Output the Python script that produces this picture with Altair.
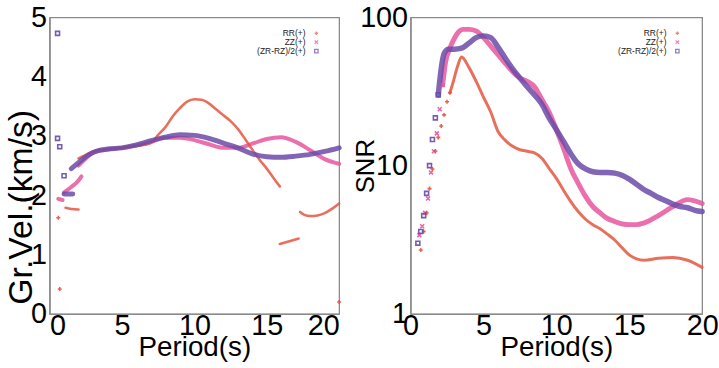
import altair as alt
import pandas as pd

SERIES = ["RR(+)", "ZZ(+)", "(ZR-RZ)/2(+)"]
COLORS = ["#e4563f", "#e6569e", "#6b4ba8"]
SHAPES = ["M-1,0L1,0M0,-1L0,1", "M-1,-1L1,1M-1,1L1,-1", "square"]

X_TICKS = [0, 5, 10, 15, 20]
GV_TICKS = [0, 1, 2, 3, 4, 5]
SNR_TICKS = [1, 10, 100]

# ---------------- Group velocity (left panel) ----------------
gv_rr_a_p = [1.1, 1.5, 2.0]
gv_rr_a_v = [1.79, 1.77, 1.76]
gv_rr_b_p = [2.0, 2.5, 3.0, 3.5, 4.0, 5.0, 6.0, 7.0, 7.5, 8.0, 8.5, 9.0, 9.5, 10.0, 10.5,
             11.0, 11.5, 12.0, 12.5, 13.0, 13.5, 14.0, 14.5, 15.0, 15.5, 15.9]
gv_rr_b_v = [2.62, 2.68, 2.74, 2.77, 2.78, 2.8, 2.83, 2.88, 3.02, 3.15, 3.33, 3.47, 3.58, 3.62, 3.61,
             3.55, 3.45, 3.35, 3.25, 3.12, 2.95, 2.77, 2.6, 2.45, 2.28, 2.15]
gv_rr_c_p = [15.9, 16.5, 17.2]
gv_rr_c_v = [1.18, 1.22, 1.27]
gv_rr_d_p = [17.3, 17.6, 18.0, 18.5, 19.0, 19.5, 20.0]
gv_rr_d_v = [1.72, 1.67, 1.65, 1.66, 1.7, 1.77, 1.86]
gv_rr_pts_p = [0.6, 0.7, 20.0]
gv_rr_pts_v = [1.62, 0.42, 0.2]

gv_zz_a_p = [0.6, 0.9]
gv_zz_a_v = [1.94, 1.92]
gv_zz_b_p = [1.0, 1.5, 2.0, 2.2]
gv_zz_b_v = [2.05, 2.14, 2.25, 2.32]
gv_zz_c_p = [2.0, 2.5, 3, 4, 5, 6, 7, 8, 9, 10, 11, 12, 13, 14, 15, 16, 17, 18, 19, 20]
gv_zz_c_v = [2.5, 2.62, 2.72, 2.77, 2.8, 2.84, 2.9, 2.97, 2.97, 2.93, 2.86, 2.8, 2.8, 2.87,
             2.95, 2.98, 2.9, 2.76, 2.61, 2.53]

gv_zr_a_p = [1.0, 1.6]
gv_zr_a_v = [2.02, 2.02]
gv_zr_b_p = [1.5, 2, 2.5, 3, 3.5, 4, 5, 6, 7, 8, 9, 10, 11, 12, 13, 14, 15, 16, 17, 18, 19, 20]
gv_zr_b_v = [2.45, 2.55, 2.65, 2.72, 2.76, 2.78, 2.8, 2.85, 2.92, 2.98, 3.02, 3.01, 2.96, 2.88,
             2.8, 2.7, 2.65, 2.64, 2.66, 2.69, 2.74, 2.8]
gv_zr_pts_p = [0.55, 0.55, 0.7, 1.0]
gv_zr_pts_v = [4.73, 2.96, 2.82, 2.33]

# ---------------- SNR (right panel) ----------------
snr_rr_pts_p = [0.7, 0.9, 1.1, 1.3, 1.5, 1.7, 1.9, 2.1, 2.3, 2.5, 2.7]
snr_rr_pts_v = [2.7, 3.6, 4.8, 7.0, 9.5, 12.5, 15.5, 18.5, 22, 27, 31]
snr_rr_p = [2.7, 2.9, 3.2, 3.5, 4.0, 4.5, 5.0, 5.5, 6.0, 6.5, 7.0, 7.5, 8.0, 8.5, 9.0, 9.5, 10.0,
            10.5, 11.0, 11.5, 12.0, 12.5, 13.0, 13.5, 14.0, 14.5, 15.0, 15.5, 16.0, 17.0, 18.0,
            19.0, 20.0]
snr_rr_v = [31, 36, 46, 54, 46, 37, 29, 23, 17, 14.8, 13.5, 12.8, 12.5, 12.2, 11.2, 9.6, 8.2,
            6.8, 5.7, 4.9, 4.35, 4.0, 3.75, 3.45, 3.15, 2.8, 2.5, 2.35, 2.3, 2.37, 2.4, 2.3, 2.06]

snr_zz_pts_p = [0.6, 0.8, 1.0, 1.2, 1.4, 1.6, 1.8, 2.0, 2.2]
snr_zz_pts_v = [3.4, 3.9, 4.8, 6.0, 9.0, 12.5, 16.5, 24, 35]
snr_zz_p = [2.2, 2.4, 2.7, 3.0, 3.3, 3.6, 4.0, 4.5, 5.0, 5.5, 6.0, 6.5, 7.0, 7.5, 8.0, 8.5, 9.0,
            9.5, 10.0, 10.5, 11.0, 11.5, 12.0, 12.5, 13.0, 13.5, 14.0, 14.5, 15.0, 15.5, 16.0,
            17.0, 18.0, 19.0, 20.0]
snr_zz_v = [35, 50, 62, 72, 80, 83, 83, 81, 73, 64, 56, 49, 43, 39, 37, 34, 28, 23, 17.5, 13,
            9.5, 7.6, 6.2, 5.3, 4.8, 4.4, 4.2, 4.05, 4.0, 4.0, 4.1, 4.6, 5.3, 5.9, 5.55]

snr_zr_pts_p = [0.5, 0.7, 0.9, 1.1, 1.3, 1.5, 1.7, 1.9]
snr_zr_pts_v = [3.0, 3.6, 4.6, 6.5, 10, 15, 21, 30]
snr_zr_p = [1.9, 2.1, 2.3, 2.6, 3.0, 3.5, 4.0, 4.5, 5.0, 5.5, 6.0, 6.5, 7.0, 7.5, 8.0, 8.5, 9.0,
            9.5, 10.0, 10.5, 11.0, 11.5, 12.0, 12.5, 13.0, 13.5, 14.0, 14.5, 15.0, 15.5, 16.0,
            16.5, 17.0, 17.5, 18.0, 18.5, 19.0, 19.5, 20.0]
snr_zr_v = [30, 45, 57, 61, 61, 62, 67, 73, 75, 73, 63, 53, 45, 39, 34, 30, 26, 21, 17.5, 14.5,
            12, 10.3, 9.5, 9.1, 9.0, 9.0, 8.9, 8.6, 8.1, 7.5, 6.9, 6.5, 6.1, 5.8, 5.5, 5.3, 5.2,
            5.0, 4.9]

FONT = "Liberation Sans"
FRAME = "#8a8a8a"
H = 299
W_L, W_R = 292, 294


def seg_df(segs, widths):
    rows = []
    for s_i, (series, segments) in enumerate(segs):
        for k, (ps, vs) in enumerate(segments):
            for p, v in zip(ps, vs):
                rows.append({"series": series, "seg": f"{s_i}-{k}", "P": p, "V": v,
                             "col": COLORS[SERIES.index(series)], "w": widths[s_i]})
    return pd.DataFrame(rows)


def pts_df(items):
    rows = []
    for series, ps, vs in items:
        for p, v in zip(ps, vs):
            rows.append({"series": series, "P": p, "V": v})
    return pd.DataFrame(rows)


gv_lines = seg_df([
    (SERIES[1], [(gv_zz_a_p, gv_zz_a_v), (gv_zz_b_p, gv_zz_b_v), (gv_zz_c_p, gv_zz_c_v)]),
    (SERIES[0], [(gv_rr_a_p, gv_rr_a_v), (gv_rr_b_p, gv_rr_b_v), (gv_rr_c_p, gv_rr_c_v),
                 (gv_rr_d_p, gv_rr_d_v)]),
    (SERIES[2], [(gv_zr_a_p, gv_zr_a_v), (gv_zr_b_p, gv_zr_b_v)]),
], [4.0, 2.6, 5.0])
gv_pts = pts_df([(SERIES[0], gv_rr_pts_p, gv_rr_pts_v), (SERIES[2], gv_zr_pts_p, gv_zr_pts_v)])

snr_lines = seg_df([
    (SERIES[1], [(snr_zz_p, snr_zz_v)]),
    (SERIES[0], [(snr_rr_p, snr_rr_v)]),
    (SERIES[2], [(snr_zr_p, snr_zr_v)]),
], [5.0, 3.0, 5.5])
snr_pts = pts_df([(SERIES[1], snr_zz_pts_p, snr_zz_pts_v), (SERIES[0], snr_rr_pts_p, snr_rr_pts_v),
                  (SERIES[2], snr_zr_pts_p, snr_zr_pts_v)])

x_scale = alt.Scale(domain=[0, 20], nice=False, zero=False)
color_scale = alt.Scale(domain=SERIES, range=COLORS)
shape_scale = alt.Scale(domain=SERIES, range=SHAPES)


def x_axis(flush):
    return alt.Axis(values=X_TICKS, title="Period(s)", grid=False, domain=True,
                    domainColor=FRAME, domainWidth=1.3, ticks=False,
                    tickSize=0, labelFont=FONT, labelFontSize=29, labelColor="black",
                    labelBaseline="alphabetic", labelPadding=21, labelFlush=flush,
                    titleFont=FONT, titleFontSize=28, titleFontWeight="normal", titleColor="black",
                    titleBaseline="alphabetic", titleY=42, labelOverlap=False)


def legend_layers(top):
    out = []
    for i, s in enumerate(SERIES):
        yy = top + 9 * i
        d = pd.DataFrame({"series": [s]})
        out.append(alt.Chart(d).mark_text(align="right", baseline="middle", font=FONT,
                                          fontSize=8.5, color="#222").encode(
            text="series:N", x=alt.value(258), y=alt.value(yy)))
        out.append(alt.Chart(d).mark_point(filled=False, strokeWidth=1.3, size=12).encode(
            x=alt.value(269), y=alt.value(yy),
            color=alt.Color("series:N", scale=color_scale, legend=None),
            shape=alt.Shape("series:N", scale=shape_scale, legend=None)))
    return out


def panel(lines, pts, y_scale, y_axis, W, flush):
    xax = x_axis(flush)
    X = lambda: alt.X("P:Q", scale=x_scale, axis=xax)
    Y = lambda: alt.Y("V:Q", scale=y_scale, axis=y_axis)
    layers = []
    # data lines, one layer per series to control drawing order
    for s in [SERIES[1], SERIES[0], SERIES[2]]:
        d = lines[lines["series"] == s]
        layers.append(alt.Chart(d).mark_line(opacity=0.85, strokeCap="round", strokeJoin="round",
                                             interpolate="monotone").encode(
            x=X(), y=Y(), detail="seg:N",
            stroke=alt.Stroke("col:N", scale=None),
            strokeWidth=alt.StrokeWidth("w:Q", scale=None),
            order="P:Q"))
    # sparse markers
    layers.append(alt.Chart(pts).mark_point(filled=False, strokeWidth=1.6, size=16, opacity=0.9).encode(
        x=X(), y=Y(),
        color=alt.Color("series:N", scale=color_scale, legend=None),
        shape=alt.Shape("series:N", scale=shape_scale, legend=None)))
    layers += legend_layers(16)
    return alt.layer(*layers).properties(width=W, height=H)


gv_axis = alt.Axis(values=GV_TICKS, title="Gr.Vel.(km/s)", grid=False, domain=True,
                   domainColor=FRAME, domainWidth=1.3, ticks=False,
                   tickSize=0, labelFont=FONT, labelFontSize=29, labelColor="black", labelPadding=3,
                   labelFlush=False,
                   titleFont=FONT, titleFontSize=34, titleFontWeight="normal", titleColor="black",
                   titleX=-11, titleY=191, titleAlign="center", titleBaseline="bottom",
                   labelOverlap=False)
snr_axis = alt.Axis(values=SNR_TICKS, format="d", title="SNR", grid=False, domain=True,
                    domainColor=FRAME, domainWidth=1.3,
                    ticks=False, tickSize=0, labelFont=FONT, labelFontSize=29, labelColor="black",
                    labelPadding=3, labelFlush=False, titleFont=FONT, titleFontSize=26,
                    titleFontWeight="normal", titleColor="black", titleX=-32, titleY=H / 2,
                    titleAlign="center", titleBaseline="bottom", labelOverlap=False)

left = panel(gv_lines, gv_pts, alt.Scale(domain=[0, 5], nice=False, zero=False), gv_axis,
             W_L, True)
right = panel(snr_lines, snr_pts, alt.Scale(type="log", domain=[1, 100], nice=False), snr_axis,
              W_R, False)

chart = alt.hconcat(left, right, spacing=7).resolve_scale(
    x="independent", y="independent"
).configure_view(
    stroke=FRAME, strokeWidth=1.3
).properties(padding={"left": 4, "top": 1, "right": 0, "bottom": 0}, background="white")

chart.save("out.html", embed_options={"renderer": "svg", "actions": False})
